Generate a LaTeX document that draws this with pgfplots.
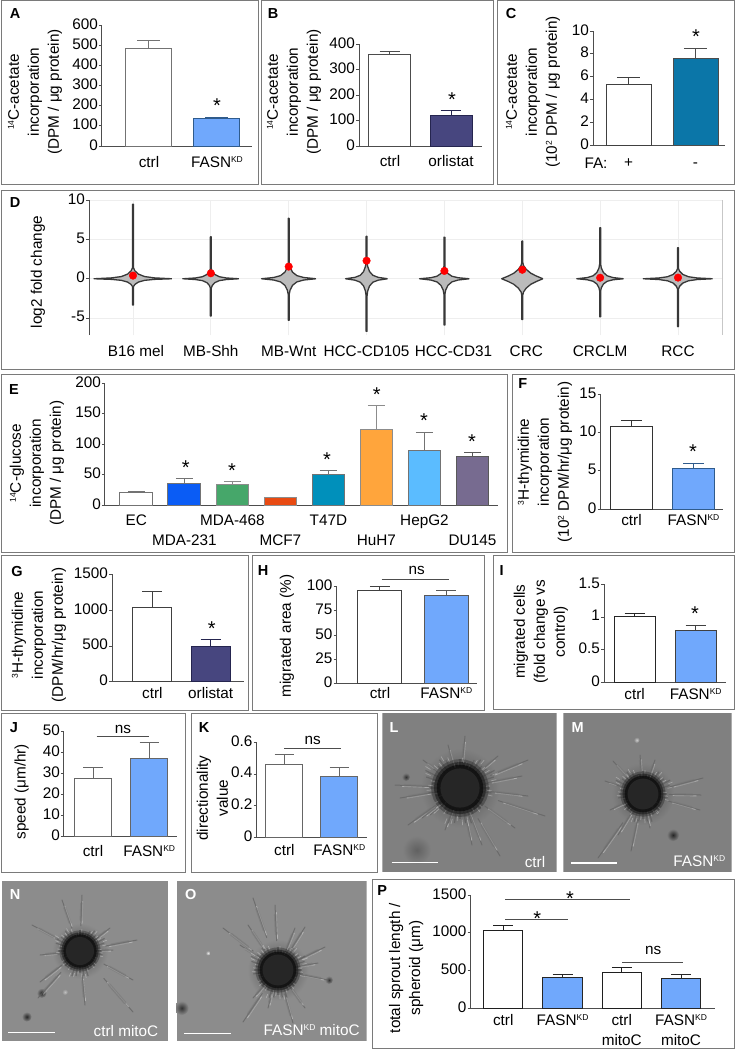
\documentclass[border=0pt]{standalone}
\usepackage{fontspec}
\setmainfont{Liberation Sans}
\usepackage{pgfplots}
\pgfplotsset{compat=1.18}
\usetikzlibrary{calc}

\definecolor{framegray}{HTML}{7A7A7A}
\definecolor{axisgray}{HTML}{4D4D4D}
\definecolor{fasn}{HTML}{70A8FC}
\definecolor{fasnedge}{HTML}{2F5B8C}
\definecolor{orl}{HTML}{47467F}
\definecolor{orledge}{HTML}{25254F}
\definecolor{fablue}{HTML}{0B76A8}
\definecolor{e1}{HTML}{0A5CF5}
\definecolor{e2}{HTML}{46A76A}
\definecolor{e3}{HTML}{E84A12}
\definecolor{e4}{HTML}{0090BB}
\definecolor{e5}{HTML}{FFA53C}
\definecolor{e6}{HTML}{5BBCFF}
\definecolor{e7}{HTML}{776B90}
\definecolor{gridl}{HTML}{EEEEEE}
\definecolor{viol}{HTML}{BBBBBB}

\newcommand{\lab}{\fontsize{15.3}{20}\selectfont}
\newcommand{\sps}[1]{\raisebox{0.33em}{\fontsize{8.5}{9}\selectfont #1}}
\newcommand{\FK}{FASN\sps{KD}}

\pgfplotsset{
  pan/.style n args={4}{
    at={(#1pt,-#2pt)},anchor=south west,width=#3pt,height=#4pt,scale only axis,
    axis x line*=bottom,axis y line*=left,
    axis line style={-,draw=axisgray,line width=1pt},
    tick align=outside,major tick length=3pt,
    xtick style={draw=none},
    ytick style={draw=axisgray,line width=0.8pt},
    tick label style={font=\lab},
    /pgf/number format/assume math mode=true,
    /pgf/number format/1000 sep={},
    yticklabel style={inner sep=1pt},
    xticklabel style={inner sep=0pt,align=center},
    typeset ticklabels with strut,
    ymin=0,clip=false,
    label style={font=\lab},
  },
  ylab/.style 2 args={ylabel style={at={([shift={(#1pt,#2pt)}]axis description cs:0,0)},anchor=center,align=center,inner sep=0pt}},
  xshf/.style={xticklabel shift=#1pt},
}

% one bar: position, value, upper error, fill, edge
\newcommand{\bb}[5]{\addplot[ybar,bar shift=0pt,bar width=\bw,fill=#4,draw=#5,line width=1pt,mark=none,
  error bars/.cd,y dir=plus,y explicit,error bar style={color=#5,line width=1pt},
  error mark options={rotate=90,mark size=\capw,line width=1pt,color=#5}] coordinates {(#1,#2) +- (0,#3)};}

\newcommand{\st}[2]{\node[anchor=north,inner sep=0pt,font=\fontsize{20}{20}\selectfont] at (#1,#2-3.5) {*};}
\newcommand{\lett}[2]{\node[font=\fontsize{14.5}{15}\selectfont\bfseries] at #1 {#2};}
\newcommand{\nsl}[4]{\draw[axisgray,line width=0.8pt] (#1,#3) -- (#2,#3); \node[font=\lab] at (#4) {ns};}
\newcommand{\spot}[4]{\shade[inner color=black!#4,outer color=photobase] (#1,#2) circle (#3);}

% photo panels: spheroid with sprouts, tips given as offsets in px
\newcommand{\spheroid}[4]{%
  \shade[inner color=black!70,outer color=photobase] (#1,#2) circle ({1.4*#3});
  \foreach \dx/\dy in {#4}{
    \draw[black!62,opacity=0.7,line width=1pt,line cap=round] ({#1+0.45*\dx},{#2+0.45*\dy}) -- ({#1+\dx},{#2+\dy});
    \draw[white,opacity=0.35,line width=0.9pt,line cap=round] ({#1+0.5*\dx+1},{#2+0.5*\dy+1}) -- ({#1+0.9*\dx+1},{#2+0.9*\dy+1});
    \draw[black!55,opacity=0.45,line width=3pt,line cap=round] ({#1+0.55*\dx},{#2+0.55*\dy}) -- ({#1+0.85*\dx},{#2+0.85*\dy});
  }
  \foreach \a in {0,9,...,351}{
    \pgfmathsetmacro\ll{#3*(1.08+0.18*sin(37*\a)+0.14*sin(11*\a))}
    \draw[black!65,opacity=0.6,line width=1.2pt] ({#1+0.75*#3*cos(\a)},{#2+0.75*#3*sin(\a)}) -- ({#1+\ll*cos(\a)},{#2+\ll*sin(\a)});
    \draw[white,opacity=0.3,line width=0.7pt] ({#1+0.9*\ll*cos(\a+5)},{#2+0.9*\ll*sin(\a+5)}) -- ({#1+1.05*\ll*cos(\a+5)},{#2+1.05*\ll*sin(\a+5)});
  }
  \fill[black,opacity=0.25] (#1,#2) circle ({1.03*#3});
  \fill[black,opacity=0.4] (#1,#2) circle ({0.93*#3});
  \fill[black,opacity=0.55] (#1,#2) circle ({0.83*#3});
  \fill[black!85] (#1,#2) circle ({0.7*#3});
}

\begin{document}
\begin{tikzpicture}
\path[use as bounding box,fill=white] (0pt,0pt) rectangle (735pt,-1050pt);

\begin{scope}[x=1pt,y=-1pt]
% frames
\foreach \a/\b/\c/\d in {1/0.5/258/184,261/0.5/493/184,497/0.5/734/184,1/190/734/369,1/374/507/552,512/374/734/552,
  1/555/248/710,252/555/484/710,493/555/734/709,1/713/185/872,191/713/377/872,372/879/734/1048}
  \draw[framegray,line width=1pt] (\a,\b) rectangle (\c,\d);

% photos
\colorlet{photobase}{black!50}
\begin{scope}
\clip (382.3,713.3) rectangle (556.7,872.3);
\fill[photobase] (382.3,713.3) rectangle (556.7,872.3);
\spot{416.7}{850}{14}{62}
\spot{406}{777}{4}{80}
\spheroid{460}{788}{28}{-65/-3,-60/10,-37/-28,-12/-43,5/-52,38/-32,68/-28,62/-12,68/8,85/28,55/40,40/68,12/57,-15/42,-52/37,-30/27,22/57,-38/30}
\end{scope}
\begin{scope}
\clip (563.3,713.3) rectangle (731.7,872.3);
\fill[photobase] (563.3,713.3) rectangle (731.7,872.3);
\spot{673}{835}{6}{85}
\spot{636.7}{740}{3}{20}
\spheroid{643}{794}{22}{-30/-33,-38/-13,-3/-39,12/-34,60/-16,58/1,57/16,15/21,7/34,-45/64,-25/41,-12/57,-33/16}
\end{scope}
\colorlet{photobase}{black!45}
\begin{scope}
\clip (1.7,881) rectangle (168.3,1040.7);
\fill[photobase] (1.7,881) rectangle (168.3,1040.7);
\spot{26.7}{1016.7}{5}{85}
\spot{41.7}{993}{5}{85}
\spot{65}{992}{3}{25}
\spheroid{80}{951}{20}{-18/-51,2/-56,-48/-26,30/-23,57/-11,33/-1,53/29,53/61,5/54,-42/47,-40/31,-40/4}
\end{scope}
\begin{scope}
\clip (176.7,881) rectangle (366.7,1040.7);
\fill[photobase] (176.7,881) rectangle (366.7,1040.7);
\spot{181.7}{1008}{7}{80}
\spot{208}{953}{2.5}{10}
\spot{329}{980}{4}{80}
\spheroid{278}{970}{22}{-25/-72,-3/-65,-55/-42,-38/-25,-30/-45,17/-42,27/-43,47/-23,40/-7,50/10,27/38,15/53,-35/52,-25/28,-10/38}
\end{scope}
\draw[white,line width=1.3pt] (391.7,862.3) -- (438.3,862.3) (571,863) -- (617.3,863) (8.3,1032.7) -- (55,1032.7) (184,1033.7) -- (230.7,1033.7);
\node[white,font=\lab] at (535,862) {ctrl};
\node[white,font=\lab] at (699.3,861) {\FK};
\node[white,font=\lab] at (126,1031) {ctrl mitoC};
\node[white,font=\lab] at (311.7,1030) {\FK{} mitoC};
\begin{scope}[white]
\lett{(394,727.7)}{L}\lett{(577.7,728)}{M}\lett{(15,894)}{N}\lett{(190.7,894)}{O}
\end{scope}
\end{scope}

% A
\def\bw{46pt}\def\capw{11.5pt}
\begin{axis}[pan={102}{146}{150}{121},ymax=600,ytick={0,100,...,600},xmin=0.309,xmax=2.515,
  xtick={1,2},xticklabels={ctrl,\FK},xshf=4.5,ylab={-67}{54},
  ylabel={\sps{14}C-acetate\\incorporation\\(DPM / μg protein)}]
\bb{1}{485}{38}{white}{black!55}
\bb{2}{135}{8}{fasn}{fasnedge}
\end{axis}
% B
\def\bw{42pt}\def\capw{10.3pt}
\begin{axis}[pan={359}{146}{123}{102},ymax=400,ytick={0,100,...,400},xmin=0.492,xmax=2.508,
  xtick={1,2},xticklabels={ctrl,orlistat},xshf=3.5,ylab={-65}{54},
  ylabel={\sps{14}C-acetate\\incorporation\\(DPM / μg protein)}]
\bb{1}{357}{15}{white}{black!70}
\bb{2}{119}{21}{orl}{orledge}
\end{axis}
% C
\def\bw{45pt}\def\capw{11.7pt}
\begin{axis}[pan={593}{145}{132}{114},ymax=10,ytick={0,2,...,10},xmin=0.470,xmax=2.440,
  xtick={1,2},xticklabels={+,-},xshf=5.5,ylab={-60}{53},
  ylabel={\sps{14}C-acetate\\incorporation\\(10\sps{2} DPM / μg protein)}]
\bb{1}{5.35}{0.58}{white}{black!75}
\bb{2}{7.57}{0.93}{fablue}{black!70}
\end{axis}
% D
\begin{axis}[pan={89}{335}{633}{134.7},ymin=-7.17,ymax=10,ytick={-5,0,5,10},xmin=0.435,xmax=8.565,
  xtick={1,...,8},xshf=4.5,ylab={-51}{63},ylabel={log2 fold change},
  xticklabels={\hspace*{6pt}B16 mel,MB-Shh,MB-Wnt,HCC-CD105,\hspace*{18pt}HCC-CD31,\hspace*{8pt}CRC,CRCLM,RCC},
  grid=major,grid style={gridl,line width=0.8pt},
  x axis line style={draw=none}]
\pgfplotsset{violin/.style={fill=viol,draw=black!78,line width=1.3pt,line join=round,mark=none}}
\addplot[violin] table[x expr=\thisrow{w}+1,y=y,row sep=\\] {w y\\0.5 0\\0.275 0.11\\0.15 0.28\\0.07 0.59\\0.025 1.0\\0.006 1.4\\0.006 9.5\\-0.006 9.5\\-0.006 1.4\\-0.025 1.0\\-0.07 0.59\\-0.15 0.28\\-0.275 0.11\\-0.5 0\\-0.275 -0.08\\-0.15 -0.2\\-0.07 -0.42\\-0.025 -0.72\\-0.006 -1.0\\-0.006 -3.35\\0.006 -3.35\\0.006 -1.0\\0.025 -0.72\\0.07 -0.42\\0.15 -0.2\\0.275 -0.08\\0.5 0\\};
\addplot[violin] table[x expr=\thisrow{w}+2,y=y,row sep=\\] {w y\\0.36 0\\0.198 0.1\\0.108 0.26\\0.05 0.55\\0.018 0.94\\0.006 1.3\\0.006 5.35\\-0.006 5.35\\-0.006 1.3\\-0.018 0.94\\-0.05 0.55\\-0.108 0.26\\-0.198 0.1\\-0.36 0\\-0.198 -0.1\\-0.108 -0.24\\-0.05 -0.5\\-0.018 -0.86\\-0.006 -1.2\\-0.006 -4.75\\0.006 -4.75\\0.006 -1.2\\0.018 -0.86\\0.05 -0.5\\0.108 -0.24\\0.198 -0.1\\0.36 0\\};
\addplot[violin] table[x expr=\thisrow{w}+3,y=y,row sep=\\] {w y\\0.35 0\\0.193 0.16\\0.105 0.4\\0.049 0.84\\0.018 1.44\\0.006 2.0\\0.006 7.7\\-0.006 7.7\\-0.006 2.0\\-0.018 1.44\\-0.049 0.84\\-0.105 0.4\\-0.193 0.16\\-0.35 0\\-0.193 -0.16\\-0.105 -0.4\\-0.049 -0.84\\-0.018 -1.44\\-0.006 -2.0\\-0.006 -5.3\\0.006 -5.3\\0.006 -2.0\\0.018 -1.44\\0.049 -0.84\\0.105 -0.4\\0.193 -0.16\\0.35 0\\};
\addplot[violin] table[x expr=\thisrow{w}+4,y=y,row sep=\\] {w y\\0.27 0\\0.149 0.18\\0.081 0.44\\0.038 0.92\\0.014 1.58\\0.006 2.2\\0.006 5.4\\-0.006 5.4\\-0.006 2.2\\-0.014 1.58\\-0.038 0.92\\-0.081 0.44\\-0.149 0.18\\-0.27 0\\-0.149 -0.18\\-0.081 -0.44\\-0.038 -0.92\\-0.014 -1.58\\-0.006 -2.2\\-0.006 -6.7\\0.006 -6.7\\0.006 -2.2\\0.014 -1.58\\0.038 -0.92\\0.081 -0.44\\0.149 -0.18\\0.27 0\\};
\addplot[violin] table[x expr=\thisrow{w}+5,y=y,row sep=\\] {w y\\0.32 0\\0.176 0.13\\0.096 0.32\\0.045 0.67\\0.016 1.15\\0.006 1.6\\0.006 5.3\\-0.006 5.3\\-0.006 1.6\\-0.016 1.15\\-0.045 0.67\\-0.096 0.32\\-0.176 0.13\\-0.32 0\\-0.176 -0.16\\-0.096 -0.4\\-0.045 -0.84\\-0.016 -1.44\\-0.006 -2.0\\-0.006 -5.9\\0.006 -5.9\\0.006 -2.0\\0.016 -1.44\\0.045 -0.84\\0.096 -0.4\\0.176 -0.16\\0.32 0\\};
\addplot[violin] table[x expr=\thisrow{w}+6,y=y,row sep=\\] {w y\\0.265 0\\0.18 0.35\\0.11 0.7\\0.05 1.2\\0.015 1.7\\0.006 2.1\\0.006 4.8\\-0.006 4.8\\-0.006 2.1\\-0.015 1.7\\-0.05 1.2\\-0.11 0.7\\-0.18 0.35\\-0.265 0\\-0.18 -0.35\\-0.11 -0.7\\-0.05 -1.2\\-0.015 -1.7\\-0.006 -2.1\\-0.006 -5.2\\0.006 -5.2\\0.006 -2.1\\0.015 -1.7\\0.05 -1.2\\0.11 -0.7\\0.18 -0.35\\0.265 0\\};
\addplot[violin] table[x expr=\thisrow{w}+7,y=y,row sep=\\] {w y\\0.3 0\\0.165 0.15\\0.09 0.38\\0.042 0.8\\0.015 1.37\\0.006 1.9\\0.006 6.5\\-0.006 6.5\\-0.006 1.9\\-0.015 1.37\\-0.042 0.8\\-0.09 0.38\\-0.165 0.15\\-0.3 0\\-0.165 -0.13\\-0.09 -0.32\\-0.042 -0.67\\-0.015 -1.15\\-0.006 -1.6\\-0.006 -4.85\\0.006 -4.85\\0.006 -1.6\\0.015 -1.15\\0.042 -0.67\\0.09 -0.32\\0.165 -0.13\\0.3 0\\};
\addplot[violin] table[x expr=\thisrow{w}+8,y=y,row sep=\\] {w y\\0.445 0\\0.245 0.1\\0.134 0.26\\0.062 0.55\\0.022 0.94\\0.006 1.3\\0.006 3.95\\-0.006 3.95\\-0.006 1.3\\-0.022 0.94\\-0.062 0.55\\-0.134 0.26\\-0.245 0.1\\-0.445 0\\-0.245 -0.1\\-0.134 -0.26\\-0.062 -0.55\\-0.022 -0.94\\-0.006 -1.3\\-0.006 -6.1\\0.006 -6.1\\0.006 -1.3\\0.022 -0.94\\0.062 -0.55\\0.134 -0.26\\0.245 -0.1\\0.445 0\\};
\addplot[only marks,mark=*,mark size=3.8pt,mark options={draw=red,fill=red}] coordinates {(1,0.4) (2,0.7) (3,1.55) (4,2.3) (5,1.0) (6,1.15) (7,0.13) (8,0.15)};
\end{axis}
% E
\def\bw{32.7pt}\def\capw{8.5pt}
\begin{axis}[pan={105}{505.3}{393}{122},ymax=200,ytick={0,50,...,200},xmin=0.348,xmax=8.531,
  xtick={1,...,8},xshf=3,ylab={-68}{42},
  xticklabels={EC,\mbox{}\\MDA-231,MDA-468,\mbox{}\\MCF7,T47D,\mbox{}\\HuH7,HepG2,\mbox{}\\DU145},
  xticklabel style={font=\lab},
  ylabel={\sps{14}C-glucose\\incorporation\\(DPM / μg protein)}]
\bb{1}{20.8}{1.6}{white}{black!55}
\bb{2}{36}{7.7}{e1}{black!55}
\bb{3}{33.9}{4.9}{e2}{black!45}
\bb{4}{12}{1}{e3}{black!45}
\bb{5}{50.8}{6}{e4}{black!55}
\bb{6}{124.6}{39.4}{e5}{black!45}
\bb{7}{89.5}{29.5}{e6}{black!55}
\bb{8}{80.3}{6}{e7}{black!65}
\end{axis}
% F
\def\bw{41.7pt}\def\capw{10.4pt}
\begin{axis}[pan={600.7}{509}{122.3}{115},ymax=15,ytick={0,5,10,15},xmin=0.503,xmax=2.476,
  xtick={1,2},xticklabels={ctrl,\FK},xshf=-0.5,ylab={-55.7}{47},
  ylabel={\sps{3}H-thymidine\\incorporation\\(10\sps{2} DPM/hr/μg protein)}]
\bb{1}{10.7}{0.9}{white}{black!80}
\bb{2}{5.26}{0.7}{fasn}{fasnedge}
\end{axis}
% G
\def\bw{39.3pt}\def\capw{10pt}
\begin{axis}[pan={112}{681.7}{132}{107.4},ymax=1500,ytick={0,500,1000,1500},xmin=0.310,xmax=2.570,
  xtick={1,2},xticklabels={ctrl,orlistat},xshf=0,ylab={-73}{46.7},
  ylabel={\sps{3}H-thymidine\\incorporation\\(DPM/hr/μg protein)}]
\bb{1}{1039}{214}{white}{black!75}
\bb{2}{498}{94}{orl}{orledge}
\end{axis}
% H
\def\bw{44pt}\def\capw{10pt}
\begin{axis}[pan={336.7}{683.3}{140}{96.6},ymax=100,ytick={0,25,...,100},xmin=0.347,xmax=2.459,
  xtick={1,2},xticklabels={ctrl,\FK},xshf=-1.8,ylab={-49.7}{47.3},
  ylabel={migrated area (\%)}]
\bb{1}{96.2}{3.8}{white}{black!75}
\bb{2}{91}{5.2}{fasn}{black!65}
\end{axis}
% I
\def\bw{40.7pt}\def\capw{10pt}
\begin{axis}[pan={604}{682.3}{122}{98},ymax=1.5,ytick={0,0.5,1,1.5},yticklabels={0,0.5,1,1.5},xmin=0.497,xmax=2.497,
  xtick={1,2},xticklabels={ctrl,\FK},xshf=0.2,ylab={-63}{50.6},
  ylabel={migrated cells\\(fold change vs\\control)}]
\bb{1}{1.005}{0.045}{white}{black!85}
\bb{2}{0.80}{0.07}{fasn}{black!75}
\end{axis}
% J
\def\bw{37.4pt}\def\capw{9.7pt}
\begin{axis}[pan={64}{836}{112.7}{105},ymax=50,ytick={0,10,...,50},xmin=0.484,xmax=2.489,
  xtick={1,2},xticklabels={ctrl,\FK},xshf=3.5,ylab={-42.3}{44.3},
  ylabel={speed (μm/hr)}]
\bb{1}{27.3}{5.4}{white}{black!60}
\bb{2}{36.8}{7.6}{fasn}{black!60}
\end{axis}
% K
\def\bw{36.7pt}\def\capw{9.7pt}
\begin{axis}[pan={256.7}{837.3}{110.3}{95},ymax=0.6,ytick={0,0.2,0.4,0.6},yticklabels={0,0.2,0.4,0.6},xmin=0.498,xmax=2.504,
  xtick={1,2},xticklabels={ctrl,\FK},xshf=1,ylab={-44.2}{39.3},
  ylabel={directionality\\value}]
\bb{1}{0.457}{0.065}{white}{black!60}
\bb{2}{0.385}{0.059}{fasn}{black!60}
\end{axis}
% P
\def\bw{39.3pt}\def\capw{10pt}
\begin{axis}[pan={470.7}{1008}{244.3}{113},ymax=1500,ytick={0,500,1000,1500},xmin=0.450,xmax=4.574,
  xtick={1,2,3,4},xticklabels={ctrl,\FK,ctrl\\mitoC,\FK\\mitoC},xticklabel style={font=\lab},xshf=0.2,ylab={-64.5}{40},
  ylabel={total sprout length /\\spheroid (μm)}]
\bb{1}{1031}{62}{white}{black!88}
\bb{2}{403}{44}{fasn}{black!85}
\bb{3}{473}{71}{white}{black!88}
\bb{4}{394}{53}{fasn}{black!85}
\end{axis}

% annotations, in px of the figure
\begin{scope}[x=1pt,y=-1pt]
\lett{(15,14)}{A}\lett{(273,14)}{B}\lett{(511,14)}{C}\lett{(15,203)}{D}\lett{(14,390)}{E}\lett{(522.7,384)}{F}
\lett{(17,571)}{G}\lett{(263,571)}{H}\lett{(501.7,571)}{I}\lett{(14,728)}{J}\lett{(204,728)}{K}\lett{(382.3,890)}{P}
\st{217}{102}\st{452}{96}\st{696}{33}
\st{185.7}{464}\st{232}{466.7}\st{327}{456}\st{376.7}{391}\st{424}{416.7}\st{472}{437.7}
\st{693}{447.7}\st{211.7}{625}\st{695}{610}
\st{570}{895}\st{537.3}{915}
\nsl{381.7}{449}{579.3}{416.7,570}
\nsl{96.7}{149}{736.7}{123,729}
\nsl{284.3}{341}{748.3}{312.7,740}
\nsl{622.3}{682.7}{962.3}{653.3,950.7}
\draw[axisgray,line width=0.8pt] (505,899.7) -- (630,899.7) (505,919.7) -- (568.3,919.7);
\node[font=\lab] at (596,163) {FA:};
\draw[black!22,line width=1pt] (722,200.3) -- (722,335);
\end{scope}
\end{tikzpicture}
\end{document}
